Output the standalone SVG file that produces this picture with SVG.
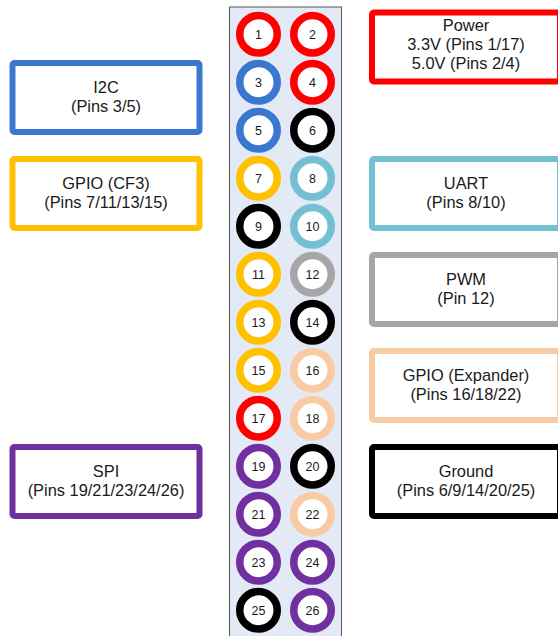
<svg xmlns="http://www.w3.org/2000/svg" width="558" height="636" viewBox="0 0 558 636">
<style>
.box{fill:#ffffff;stroke-width:6}
.bt{font-family:"Liberation Sans",Arial,sans-serif;font-size:16.4px;fill:#1a1a1a;text-anchor:middle}
.pin{fill:#ffffff;stroke-width:7.5}
.pt{font-family:"Liberation Sans",Arial,sans-serif;font-size:12.5px;fill:#1a1a1a;text-anchor:middle}
.red{stroke:#ff0000}.blue{stroke:#3a78d0}.gold{stroke:#ffc000}.cyan{stroke:#72c0d2}
.grey{stroke:#a6a6a6}.peach{stroke:#f9cba4}.black{stroke:#000000}.purple{stroke:#7030a0}
</style>
<rect id="header" x="229.5" y="7" width="112" height="640" fill="#e4eaf5" stroke="#555555" stroke-width="1"/>
<g id="connectors"></g>
<g id="pins">
<g id="pin1"><circle class="pin red" cx="258.5" cy="34.25" r="18.75"/><text class="pt" x="258.5" y="38.5">1</text></g>
<g id="pin2"><circle class="pin red" cx="312.5" cy="34.25" r="18.75"/><text class="pt" x="312.5" y="38.5">2</text></g>
<g id="pin3"><circle class="pin blue" cx="258.5" cy="82.25" r="18.75"/><text class="pt" x="258.5" y="86.5">3</text></g>
<g id="pin4"><circle class="pin red" cx="312.5" cy="82.25" r="18.75"/><text class="pt" x="312.5" y="86.5">4</text></g>
<g id="pin5"><circle class="pin blue" cx="258.5" cy="130.25" r="18.75"/><text class="pt" x="258.5" y="134.5">5</text></g>
<g id="pin6"><circle class="pin black" cx="312.5" cy="130.25" r="18.75"/><text class="pt" x="312.5" y="134.5">6</text></g>
<g id="pin7"><circle class="pin gold" cx="258.5" cy="178.25" r="18.75"/><text class="pt" x="258.5" y="182.5">7</text></g>
<g id="pin8"><circle class="pin cyan" cx="312.5" cy="178.25" r="18.75"/><text class="pt" x="312.5" y="182.5">8</text></g>
<g id="pin9"><circle class="pin black" cx="258.5" cy="226.25" r="18.75"/><text class="pt" x="258.5" y="230.5">9</text></g>
<g id="pin10"><circle class="pin cyan" cx="312.5" cy="226.25" r="18.75"/><text class="pt" x="312.5" y="230.5">10</text></g>
<g id="pin11"><circle class="pin gold" cx="258.5" cy="274.25" r="18.75"/><text class="pt" x="258.5" y="278.5">11</text></g>
<g id="pin12"><circle class="pin grey" cx="312.5" cy="274.25" r="18.75"/><text class="pt" x="312.5" y="278.5">12</text></g>
<g id="pin13"><circle class="pin gold" cx="258.5" cy="322.25" r="18.75"/><text class="pt" x="258.5" y="326.5">13</text></g>
<g id="pin14"><circle class="pin black" cx="312.5" cy="322.25" r="18.75"/><text class="pt" x="312.5" y="326.5">14</text></g>
<g id="pin15"><circle class="pin gold" cx="258.5" cy="370.25" r="18.75"/><text class="pt" x="258.5" y="374.5">15</text></g>
<g id="pin16"><circle class="pin peach" cx="312.5" cy="370.25" r="18.75"/><text class="pt" x="312.5" y="374.5">16</text></g>
<g id="pin17"><circle class="pin red" cx="258.5" cy="418.25" r="18.75"/><text class="pt" x="258.5" y="422.5">17</text></g>
<g id="pin18"><circle class="pin peach" cx="312.5" cy="418.25" r="18.75"/><text class="pt" x="312.5" y="422.5">18</text></g>
<g id="pin19"><circle class="pin purple" cx="258.5" cy="466.25" r="18.75"/><text class="pt" x="258.5" y="470.5">19</text></g>
<g id="pin20"><circle class="pin black" cx="312.5" cy="466.25" r="18.75"/><text class="pt" x="312.5" y="470.5">20</text></g>
<g id="pin21"><circle class="pin purple" cx="258.5" cy="514.25" r="18.75"/><text class="pt" x="258.5" y="518.5">21</text></g>
<g id="pin22"><circle class="pin peach" cx="312.5" cy="514.25" r="18.75"/><text class="pt" x="312.5" y="518.5">22</text></g>
<g id="pin23"><circle class="pin purple" cx="258.5" cy="562.25" r="18.75"/><text class="pt" x="258.5" y="566.5">23</text></g>
<g id="pin24"><circle class="pin purple" cx="312.5" cy="562.25" r="18.75"/><text class="pt" x="312.5" y="566.5">24</text></g>
<g id="pin25"><circle class="pin black" cx="258.5" cy="610.25" r="18.75"/><text class="pt" x="258.5" y="614.5">25</text></g>
<g id="pin26"><circle class="pin purple" cx="312.5" cy="610.25" r="18.75"/><text class="pt" x="312.5" y="614.5">26</text></g>
</g>
<g id="power"><rect class="box red" x="372" y="12.5" width="188" height="69" rx="2"/>
<text class="bt" x="466" y="31">Power</text><text class="bt" x="466" y="50">3.3V (Pins 1/17)</text><text class="bt" x="466" y="69">5.0V (Pins 2/4)</text></g>
<g id="i2c"><rect class="box blue" x="12.5" y="63" width="187" height="69" rx="2"/>
<text class="bt" x="106" y="92.5">I2C</text><text class="bt" x="106" y="111.5">(Pins 3/5)</text></g>
<g id="gpio-cf3"><rect class="box gold" x="12.5" y="159" width="187" height="69" rx="2"/>
<text class="bt" x="106" y="188.5">GPIO (CF3)</text><text class="bt" x="106" y="207.5">(Pins 7/11/13/15)</text></g>
<g id="uart"><rect class="box cyan" x="372" y="159" width="188" height="69" rx="2"/>
<text class="bt" x="466" y="188.5">UART</text><text class="bt" x="466" y="207.5">(Pins 8/10)</text></g>
<g id="pwm"><rect class="box grey" x="372" y="255" width="188" height="69" rx="2"/>
<text class="bt" x="466" y="284.5">PWM</text><text class="bt" x="466" y="303.5">(Pin 12)</text></g>
<g id="gpio-expander"><rect class="box peach" x="372" y="351" width="188" height="69" rx="2"/>
<text class="bt" x="466" y="380.5">GPIO (Expander)</text><text class="bt" x="466" y="399.5">(Pins 16/18/22)</text></g>
<g id="ground"><rect class="box black" x="372" y="447" width="188" height="69" rx="2"/>
<text class="bt" x="466" y="476.5">Ground</text><text class="bt" x="466" y="495.5">(Pins 6/9/14/20/25)</text></g>
<g id="spi"><rect class="box purple" x="12.5" y="447" width="187" height="69" rx="2"/>
<text class="bt" x="106" y="476.5">SPI</text><text class="bt" x="106" y="495.5">(Pins 19/21/23/24/26)</text></g>
</svg>
